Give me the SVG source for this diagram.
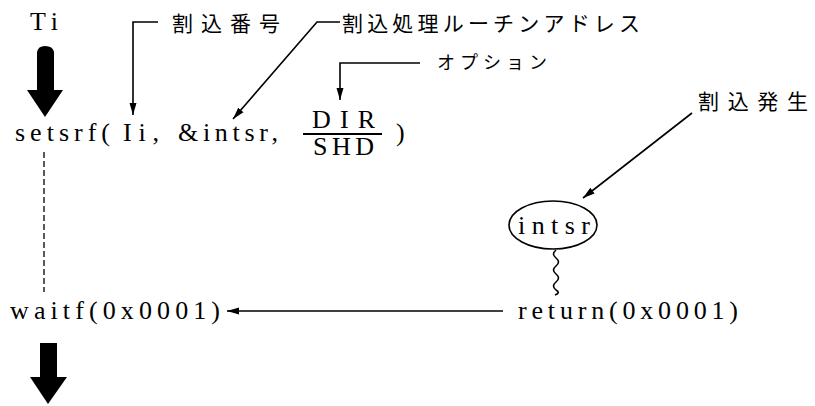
<svg xmlns="http://www.w3.org/2000/svg" width="815" height="406" viewBox="0 0 815 406">
<defs>
<style>
.code{font-family:"Liberation Serif","DejaVu Serif",serif;font-size:26px;fill:#000}
.jp{font-family:"Noto Sans CJK JP","Noto Sans",sans-serif;font-size:21px;fill:#000}
.ln{stroke:#000;stroke-width:1.6;fill:none}
.thick{fill:#000}
</style>
<marker id="ah" markerUnits="userSpaceOnUse" markerWidth="14" markerHeight="10" refX="12" refY="5" orient="auto">
<path d="M0,1.5 L12,5 L0,8.5 Z" fill="#000"/>
</marker>
</defs>
<rect width="815" height="406" fill="#fff"/>

<g id="ti">
<text class="code" x="30" y="30" textLength="28" lengthAdjust="spacing">Ti</text>
</g>
<g id="arrow-top">
<path class="thick" d="M37,52 Q38,46 45,46 Q53,46 54,52 L54,90 L63,90 L45,117 L27,90 L37,90 Z"/>
</g>
<g id="setsrf">
<text class="code" x="15" y="141" textLength="95" lengthAdjust="spacing">setsrf(</text>
<text class="code" x="123" y="141" textLength="36" lengthAdjust="spacing">Ii,</text>
<text class="code" x="178" y="141" textLength="100" lengthAdjust="spacing">&amp;intsr,</text>
<text class="code" x="312" y="128" textLength="63" lengthAdjust="spacing">DIR</text>
<line x1="303" y1="134" x2="382" y2="134" stroke="#000" stroke-width="1.8"/>
<text class="code" x="313" y="155" textLength="61" lengthAdjust="spacing">SHD</text>
<text class="code" x="396" y="141">)</text>
</g>
<g id="label-number">
<text class="jp" x="172" y="31" textLength="108" lengthAdjust="spacing">割込番号</text>
</g>
<g id="label-routine">
<text class="jp" x="342" y="31" textLength="298" lengthAdjust="spacing">割込処理ルーチンアドレス</text>
</g>
<g id="label-option">
<text class="jp" x="437" y="69" style="font-size:18px" textLength="110" lengthAdjust="spacing">オプション</text>
</g>
<g id="label-interrupt">
<text class="jp" x="698" y="109" textLength="110" lengthAdjust="spacing">割込発生</text>
</g>
<g id="intsr">
<ellipse cx="553" cy="225" rx="44" ry="24" class="ln"/>
<text class="code" x="518" y="234" textLength="72" lengthAdjust="spacing">intsr</text>
</g>
<g id="return">
<text class="code" x="518" y="319" textLength="220" lengthAdjust="spacing">return(0x0001)</text>
</g>
<g id="waitf">
<text class="code" x="10" y="319" textLength="210" lengthAdjust="spacing">waitf(0x0001)</text>
</g>
<g id="arrow-bottom">
<path class="thick" d="M40,343 L57,343 L57,377 L67,377 L48,404 L30,377 L40,377 Z"/>
</g>
<g id="connectors">
<polyline class="ln" points="158,22 133,22 133,115" marker-end="url(#ah)"/>
<polyline class="ln" points="340,22 317,22 233,119" marker-end="url(#ah)"/>
<polyline class="ln" points="420,63 340,63 340,100" marker-end="url(#ah)"/>
<line class="ln" x1="692" y1="113" x2="583" y2="198" marker-end="url(#ah)"/>
<line class="ln" x1="503" y1="311" x2="227" y2="311" marker-end="url(#ah)"/>
<line x1="44" y1="152" x2="44" y2="292" stroke="#000" stroke-width="1.3" stroke-dasharray="6,3"/>
<path class="ln" d="M556,250 q-5,4 0,8 q5,4 0,8 q-5,4 0,8 q5,4 0,8 q-5,4 0,8 q5,3 -1,5"/>
</g>
</svg>
